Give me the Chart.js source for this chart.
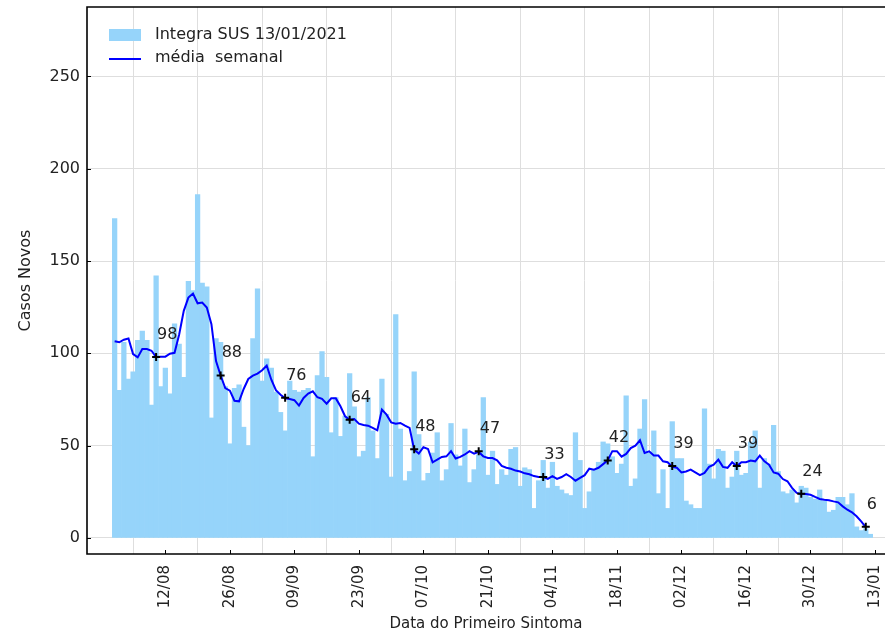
<!DOCTYPE html>
<html>
<head>
<meta charset="utf-8">
<script src="https://cdn.jsdelivr.net/npm/chart.js@4/dist/chart.umd.min.js"></script>
<style>
  html, body { margin: 0; padding: 0; background: #ffffff; }
  #wrap { width: 885px; height: 635px; }
</style>
</head>
<body>
<div id="wrap"><canvas id="c" width="885" height="635"></canvas></div>
<script>
// ---- data (day 0 = 01/08/2020) ----
const casos = [
  173, 80, 106, 86, 90, 107, 112, 107, 72, 142,
  82, 92, 78, 116, 105, 87, 139, 134, 186, 138,
  136, 65, 108, 106, 82, 51, 81, 83, 60, 50,
  108, 135, 85, 97, 92, 79, 68, 58, 85, 80,
  79, 80, 81, 44, 88, 101, 87, 57, 76, 55,
  66, 89, 71, 44, 47, 76, 58, 43, 86, 67,
  33, 121, 59, 31, 36, 90, 56, 31, 35, 46,
  57, 31, 37, 62, 45, 39, 59, 30, 37, 45,
  76, 34, 47, 29, 37, 34, 48, 49, 28, 38,
  37, 16, 31, 42, 27, 41, 28, 26, 24, 23,
  57, 42, 16, 25, 37, 41, 52, 51, 44, 35,
  40, 77, 28, 32, 59, 75, 46, 58, 24, 37,
  16, 63, 43, 43, 20, 18, 16, 16, 70, 40,
  32, 48, 47, 27, 33, 47, 34, 35, 52, 58,
  27, 43, 40, 61, 36, 25, 24, 26, 19, 28,
  27, 22, 21, 26, 20, 14, 15, 22, 22, 18,
  24, 6, 4, 5, 2
];
const mediaSemanal = [
  106.5, 106, 107.4, 108, 99.6, 97.8, 102.3, 102.3, 101.4, 98,
  98.2, 98.2, 99.8, 100.3, 110.2, 123, 130.2, 132.4, 127.1, 127.5,
  124.8, 115.8, 95.8, 88, 81.2, 79.8, 74.3, 74, 80.7, 86.1,
  87.9, 89, 90.8, 93.3, 85.7, 80, 77.6, 75.6, 75.3, 74.6,
  71.7, 75.8, 78.2, 79.4, 76.2, 75.3, 72.7, 75.6, 75.6, 71.3,
  65.9, 64, 64.4, 61.9, 61.2, 60.8, 59.6, 58.3, 69.5, 66.8,
  62.6, 61.9, 62.3, 60.8, 59.6, 47.8, 45.7, 49.2, 48.2, 41,
  42.4, 43.9, 44.2, 47, 43, 43.9, 45.2, 47, 45.7, 46.6,
  44.2, 43.3, 43.3, 42, 39, 38, 37.5, 36.5, 36, 35,
  34.5, 33.5, 33, 33, 32, 33.5, 32, 33, 34.5, 33,
  31, 32.5, 34, 37.5, 37, 38, 40, 42, 47, 47,
  44, 45.5, 48.7, 50, 52.9, 46, 46.9, 44.6, 44.6, 41.5,
  41, 38.5, 38, 35.5, 36, 37, 35.5, 34, 35.2, 38.5,
  39.7, 42.4, 38.5, 38, 41, 38.8, 41, 41, 41.9, 41.5,
  44.6, 41.5, 39.7, 35.5, 34.8, 31.9, 30.7, 27.1, 24.4, 23.8,
  23.8, 23.4, 22.2, 21.1, 20.7, 20.4, 19.8, 19.3, 17.1, 15.3,
  13.9, 11.7, 9, 5.8
];
const marcaDias = [9, 23, 37, 51, 65, 79, 93, 107, 121, 135, 149, 163];
const marcaValores = [98, 88, 76, 64, 48, 47, 33, 42, 39, 39, 24, 6];
const tickDias = [11, 25, 39, 53, 67, 81, 95, 109, 123, 137, 151, 165];
const tickRotulos = ['12/08','26/08','09/09','23/09','07/10','21/10','04/11','18/11','02/12','16/12','30/12','13/01'];
const yTicks = [0, 50, 100, 150, 200, 250];

const barColor = 'rgb(150, 212, 250)';
const FONT = "'DejaVu Sans', sans-serif";

const barData = casos.map((v, i) => ({ x: i, y: v }));
const lineData = mediaSemanal.map((v, i) => ({ x: i, y: v }));
const markData = marcaDias.map((d, k) => ({ x: d, y: marcaValores[k] }));

const extras = {
  id: 'extras',
  afterDatasetsDraw(chart) {
    const ctx = chart.ctx;
    const a = chart.chartArea;
    const xs = chart.scales.x, ys = chart.scales.y;
    ctx.save();
    // value labels
    const meta = chart.getDatasetMeta(2);
    ctx.fillStyle = '#222';
    ctx.font = '16px ' + FONT;
    ctx.textAlign = 'left';
    ctx.textBaseline = 'alphabetic';
    meta.data.forEach((pt, k) => {
      ctx.fillText(String(marcaValores[k]), pt.x + 1, pt.y - 18);
    });
    // inward ticks
    ctx.strokeStyle = '#000';
    ctx.lineWidth = 1;
    tickDias.forEach(d => {
      const px = Math.round(xs.getPixelForValue(d)) + 0.5;
      ctx.beginPath(); ctx.moveTo(px, a.bottom); ctx.lineTo(px, a.bottom - 4); ctx.stroke();
    });
    yTicks.forEach(v => {
      const py = Math.round(ys.getPixelForValue(v)) + 0.5;
      ctx.beginPath(); ctx.moveTo(a.left, py); ctx.lineTo(a.left + 4, py); ctx.stroke();
    });
    // frame (left, top, bottom)
    ctx.lineWidth = 1.6;
    ctx.beginPath();
    ctx.moveTo(a.right + 2, a.top); ctx.lineTo(a.left, a.top);
    ctx.lineTo(a.left, a.bottom); ctx.lineTo(a.right + 2, a.bottom);
    ctx.stroke();
    // legend
    ctx.fillStyle = barColor;
    ctx.fillRect(a.left + 22, a.top + 22, 32, 12);
    ctx.strokeStyle = 'blue';
    ctx.lineWidth = 2;
    ctx.beginPath(); ctx.moveTo(a.left + 22, a.top + 52); ctx.lineTo(a.left + 54, a.top + 52); ctx.stroke();
    ctx.fillStyle = '#222';
    ctx.font = '16px ' + FONT;
    ctx.textBaseline = 'middle';
    ctx.fillText('Integra SUS 13/01/2021', a.left + 68, a.top + 28);
    ctx.fillText('média  semanal', a.left + 68, a.top + 51);
    ctx.restore();
  }
};

new Chart(document.getElementById('c'), {
  type: 'bar',
  data: {
    datasets: [
      { type: 'bar', label: 'Integra SUS 13/01/2021', data: barData, backgroundColor: barColor,
        borderWidth: 0, barPercentage: 1.0, categoryPercentage: 1.0, order: 3 },
      { type: 'line', label: 'média  semanal', data: lineData, borderColor: 'blue', borderWidth: 2,
        pointRadius: 0, tension: 0, fill: false, order: 2 },
      { type: 'line', label: 'marcas', data: markData, showLine: false, pointStyle: 'cross',
        pointRadius: 4, pointBorderColor: '#000', pointBorderWidth: 2, order: 1 }
    ]
  },
  options: {
    responsive: false,
    animation: false,
    devicePixelRatio: 1,
    layout: { autoPadding: false, padding: { left: 0, right: 0, top: 7, bottom: 0 } },
    plugins: { legend: { display: false }, tooltip: { enabled: false }, title: { display: false } },
    scales: {
      x: {
        type: 'linear', offset: false, min: -6.0, max: 167.17,
        afterBuildTicks(s) { s.ticks = tickDias.map(v => ({ value: v })); },
        afterFit(s) { s.height = 81; s.paddingLeft = 0; s.paddingRight = 0; },
        ticks: {
          autoSkip: false, minRotation: 90, maxRotation: 90, padding: 11, color: '#222',
          font: { family: FONT, size: 15 },
          callback(v) { const k = tickDias.indexOf(v); return k >= 0 ? tickRotulos[k] : ''; }
        },
        grid: { color: '#dedede', lineWidth: 1, drawTicks: false },
        border: { display: false },
        title: { display: true, text: 'Data do Primeiro Sintoma', color: '#222',
          font: { family: FONT, size: 15 }, padding: { top: 0, bottom: 2 } }
      },
      y: {
        min: -8.7, max: 287.6,
        afterBuildTicks(s) { s.ticks = yTicks.map(v => ({ value: v })); },
        afterFit(s) { s.width = 87; s.paddingTop = 0; s.paddingBottom = 0; },
        ticks: { padding: 7, color: '#222', font: { family: FONT, size: 16 } },
        grid: { color: '#dedede', lineWidth: 1, drawTicks: false },
        border: { display: false },
        title: { display: true, text: 'Casos Novos', color: '#222',
          font: { family: FONT, size: 16 }, padding: { top: 16, bottom: 0 } }
      }
    }
  },
  plugins: [extras]
});
</script>
</body>
</html>
